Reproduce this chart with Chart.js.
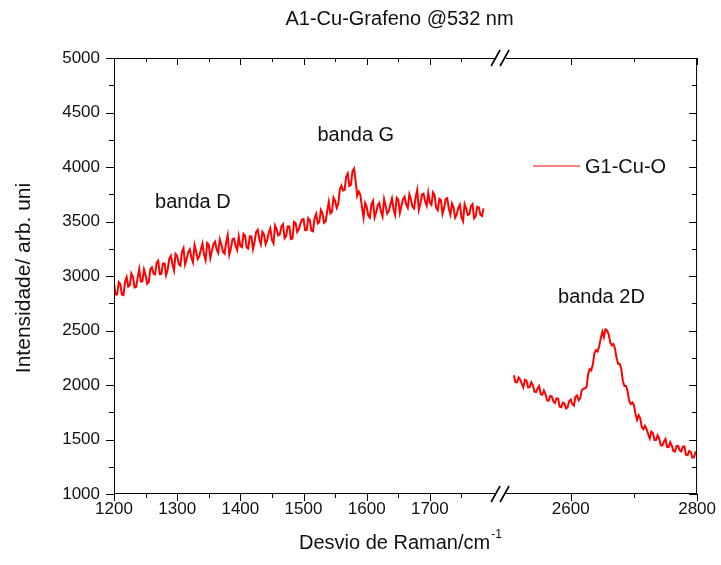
<!DOCTYPE html>
<html>
<head>
<meta charset="utf-8">
<script src="https://cdn.jsdelivr.net/npm/chart.js@4.4.1/dist/chart.umd.min.js"></script>
<style>
  html, body { margin: 0; padding: 0; background: #fff; }
  #wrap { width: 721px; height: 565px; position: relative; }
</style>
</head>
<body>
<div id="wrap"><canvas id="ramanChart"></canvas></div>
<script>
// Espectro Raman A1-Cu-Grafeno
const shiftLeft = [
  1200, 1202.5, 1205, 1207.5, 1210, 1212.5, 1215, 1217.5, 1220, 1222.5, 1225, 1227.5, 1230, 1232.5, 1235, 1237.5, 1240, 1242.5, 1245, 1247.5,
  1250, 1252.5, 1255, 1257.5, 1260, 1262.5, 1265, 1267.5, 1270, 1272.5, 1275, 1277.5, 1280, 1282.5, 1285, 1287.5, 1290, 1292.5, 1295, 1297.5,
  1300, 1302.5, 1305, 1307.5, 1310, 1312.5, 1315, 1317.5, 1320, 1322.5, 1325, 1327.5, 1330, 1332.5, 1335, 1337.5, 1340, 1342.5, 1345, 1347.5,
  1350, 1352.5, 1355, 1357.5, 1360, 1362.5, 1365, 1367.5, 1370, 1372.5, 1375, 1377.5, 1380, 1382.5, 1385, 1387.5, 1390, 1392.5, 1395, 1397.5,
  1400, 1402.5, 1405, 1407.5, 1410, 1412.5, 1415, 1417.5, 1420, 1422.5, 1425, 1427.5, 1430, 1432.5, 1435, 1437.5, 1440, 1442.5, 1445, 1447.5,
  1450, 1452.5, 1455, 1457.5, 1460, 1462.5, 1465, 1467.5, 1470, 1472.5, 1475, 1477.5, 1480, 1482.5, 1485, 1487.5, 1490, 1492.5, 1495, 1497.5,
  1500, 1502.5, 1505, 1507.5, 1510, 1512.5, 1515, 1517.5, 1520, 1522.5, 1525, 1527.5, 1530, 1532.5, 1535, 1537.5, 1540, 1542.5, 1545, 1547.5,
  1550, 1552.5, 1555, 1557.5, 1560, 1562.5, 1565, 1567.5, 1570, 1572.5, 1575, 1577.5, 1580, 1582.5, 1585, 1587.5, 1590, 1592.5, 1595, 1597.5,
  1600, 1602.5, 1605, 1607.5, 1610, 1612.5, 1615, 1617.5, 1620, 1622.5, 1625, 1627.5, 1630, 1632.5, 1635, 1637.5, 1640, 1642.5, 1645, 1647.5,
  1650, 1652.5, 1655, 1657.5, 1660, 1662.5, 1665, 1667.5, 1670, 1672.5, 1675, 1677.5, 1680, 1682.5, 1685, 1687.5, 1690, 1692.5, 1695, 1697.5,
  1700, 1702.5, 1705, 1707.5, 1710, 1712.5, 1715, 1717.5, 1720, 1722.5, 1725, 1727.5, 1730, 1732.5, 1735, 1737.5, 1740, 1742.5, 1745, 1747.5,
  1750, 1752.5, 1755, 1757.5, 1760, 1762.5, 1765, 1767.5, 1770, 1772.5, 1775, 1777.5, 1780, 1782.5, 1785
];
const intensLeft = [
  2930, 2830, 2830, 2943, 2925, 2830, 2825, 2948, 2990, 2903, 2915, 3023, 2990, 2895, 2900, 2988, 3065, 2948, 2950, 3060,
  3010, 2928, 2945, 3063, 3080, 3023, 3015, 3123, 3140, 3018, 3020, 3113, 3115, 3008, 3060, 3158, 3185, 3108, 3050, 3203,
  3185, 3110, 3095, 3220, 3255, 3105, 3155, 3220, 3245, 3170, 3125, 3285, 3225, 3155, 3180, 3244, 3298, 3197, 3145, 3303,
  3285, 3164, 3233, 3292, 3315, 3244, 3212, 3335, 3288, 3222, 3205, 3308, 3375, 3194, 3252, 3335, 3343, 3276, 3238, 3362,
  3275, 3264, 3387, 3370, 3263, 3252, 3365, 3364, 3247, 3311, 3405, 3424, 3337, 3291, 3405, 3379, 3292, 3330, 3398, 3437,
  3330, 3299, 3463, 3428, 3372, 3381, 3455, 3475, 3345, 3365, 3455, 3454, 3338, 3343, 3497, 3486, 3405, 3429, 3478, 3518,
  3522, 3421, 3420, 3530, 3510, 3415, 3410, 3530, 3570, 3483, 3495, 3605, 3575, 3488, 3500, 3595, 3680, 3575, 3590, 3720,
  3690, 3625, 3660, 3795, 3830, 3785, 3790, 3910, 3940, 3825, 3835, 3960, 3985, 3870, 3735, 3775, 3745, 3630, 3535, 3670,
  3635, 3555, 3535, 3658, 3690, 3538, 3585, 3648, 3670, 3593, 3545, 3704, 3643, 3572, 3595, 3659, 3712, 3611, 3560, 3718,
  3700, 3578, 3645, 3704, 3728, 3657, 3625, 3749, 3702, 3636, 3620, 3723, 3790, 3608, 3665, 3748, 3755, 3685, 3645, 3763,
  3670, 3651, 3767, 3741, 3625, 3604, 3708, 3697, 3570, 3623, 3705, 3714, 3618, 3562, 3665, 3630, 3535, 3565, 3625, 3655,
  3540, 3503, 3660, 3620, 3560, 3568, 3640, 3660, 3530, 3548, 3635, 3630, 3560, 3550, 3620
];
const shiftRight = [
  2510, 2512.5, 2515, 2517.5, 2520, 2522.5, 2525, 2527.5, 2530, 2532.5, 2535, 2537.5, 2540, 2542.5, 2545, 2547.5, 2550, 2552.5, 2555, 2557.5,
  2560, 2562.5, 2565, 2567.5, 2570, 2572.5, 2575, 2577.5, 2580, 2582.5, 2585, 2587.5, 2590, 2592.5, 2595, 2597.5, 2600, 2602.5, 2605, 2607.5,
  2610, 2612.5, 2615, 2617.5, 2620, 2622.5, 2625, 2627.5, 2630, 2632.5, 2635, 2637.5, 2640, 2642.5, 2645, 2647.5, 2650, 2652.5, 2655, 2657.5,
  2660, 2662.5, 2665, 2667.5, 2670, 2672.5, 2675, 2677.5, 2680, 2682.5, 2685, 2687.5, 2690, 2692.5, 2695, 2697.5, 2700, 2702.5, 2705, 2707.5,
  2710, 2712.5, 2715, 2717.5, 2720, 2722.5, 2725, 2727.5, 2730, 2732.5, 2735, 2737.5, 2740, 2742.5, 2745, 2747.5, 2750, 2752.5, 2755, 2757.5,
  2760, 2762.5, 2765, 2767.5, 2770, 2772.5, 2775, 2777.5, 2780, 2782.5, 2785, 2787.5, 2790, 2792.5, 2795, 2797.5, 2800
];
const intensRight = [
  2090, 2025, 2025, 2068, 2050, 2013, 1980, 2048, 2040, 1978, 1980, 2025, 2000, 1938, 1935, 1968, 1990, 1915, 1910, 1950,
  1915, 1860, 1855, 1900, 1895, 1850, 1835, 1878, 1875, 1800, 1795, 1838, 1830, 1785, 1795, 1850, 1865, 1825, 1810, 1893,
  1905, 1860, 1880, 1953, 1965, 1970, 1980, 2100, 2145, 2135, 2190, 2290, 2320, 2308, 2355, 2428, 2490, 2440, 2510, 2500,
  2465, 2390, 2365, 2375, 2335, 2250, 2195, 2195, 2150, 2035, 1990, 1990, 1940, 1855, 1825, 1840, 1815, 1735, 1680, 1723,
  1695, 1613, 1595, 1625, 1595, 1550, 1510, 1573, 1560, 1495, 1495, 1538, 1510, 1448, 1445, 1480, 1505, 1433, 1430, 1475,
  1445, 1393, 1390, 1440, 1440, 1400, 1390, 1435, 1435, 1360, 1355, 1395, 1385, 1334, 1337, 1381, 1370
];

const xMajor = [1200, 1300, 1400, 1500, 1600, 1700, 2600, 2800];
const xMinor = [1250, 1350, 1450, 1550, 1650, 1750, 2700];
const yMajor = [1000, 1500, 2000, 2500, 3000, 3500, 4000, 4500, 5000];
const yMinor = [1250, 1750, 2250, 2750, 3250, 3750, 4250, 4750];

// quebra do eixo x: 1808 -> 2485
const BREAK_FROM = 1808;
const BREAK_TO = 2485;
const toAxis = v => v <= BREAK_FROM ? v : v - (BREAK_TO - BREAK_FROM);
const fromAxis = u => u <= BREAK_FROM ? u : u + (BREAK_TO - BREAK_FROM);

const points = shiftLeft.map((s, i) => ({ x: toAxis(s), y: intensLeft[i] }));
points.push({ x: BREAK_FROM, y: null });
shiftRight.forEach((s, i) => points.push({ x: toAxis(s), y: intensRight[i] }));

const FONT = 'Liberation Sans, Arial, sans-serif';

const decorPlugin = {
    id: 'decor',
    afterDraw(chart) {
        const { ctx, chartArea: a, scales } = chart;
        const xs = scales.x, ys = scales.y;
        ctx.save();
        ctx.strokeStyle = '#000';
        ctx.lineWidth = 1;
        ctx.beginPath();
        ctx.moveTo(a.left, a.top + 0.5); ctx.lineTo(a.right, a.top + 0.5);
        ctx.moveTo(a.right - 0.5, a.top); ctx.lineTo(a.right - 0.5, a.bottom);
        ctx.moveTo(a.left, a.bottom - 0.5); ctx.lineTo(a.right, a.bottom - 0.5);
        ctx.moveTo(a.left + 0.5, a.top); ctx.lineTo(a.left + 0.5, a.bottom);
        // ticks x
        const xt = (list, len) => list.forEach(v => {
            const px = Math.round(xs.getPixelForValue(toAxis(v))) + 0.5;
            ctx.moveTo(px, a.bottom); ctx.lineTo(px, a.bottom + len);
            ctx.moveTo(px, a.top); ctx.lineTo(px, a.top + len);
        });
        xt(xMajor, 7); xt(xMinor, 4);
        const yt = (list, len) => list.forEach(v => {
            const py = Math.round(ys.getPixelForValue(v)) + 0.5;
            ctx.moveTo(a.left, py); ctx.lineTo(a.left - len, py);
            ctx.moveTo(a.right, py); ctx.lineTo(a.right - len, py);
        });
        yt(yMajor, 8); yt(yMinor, 5);
        ctx.stroke();

        // marcas de quebra //
        const bx = xs.getPixelForValue(BREAK_FROM) + 3;
        [a.top, a.bottom].forEach(by => {
            ctx.fillStyle = '#fff';
            ctx.fillRect(bx - 5, by - 2, 10, 4);
            ctx.beginPath();
            ctx.lineWidth = 1.6;
            ctx.moveTo(bx - 10, by + 8); ctx.lineTo(bx - 1, by - 8);
            ctx.moveTo(bx - 1, by + 8); ctx.lineTo(bx + 8, by - 8);
            ctx.stroke();
        });

        // textos
        ctx.fillStyle = '#111';
        ctx.textBaseline = 'middle';
        ctx.textAlign = 'center';
        ctx.font = '20px ' + FONT;
        ctx.fillText('A1-Cu-Grafeno @532 nm', (a.left + a.right) / 2 - 6, 19);

        ctx.textAlign = 'left';
        ctx.fillText('banda D', xs.getPixelForValue(1265), ys.getPixelForValue(3670));
        ctx.fillText('banda G', xs.getPixelForValue(1522), ys.getPixelForValue(4290));
        ctx.fillText('banda 2D', xs.getPixelForValue(toAxis(2580)), ys.getPixelForValue(2800));

        // legenda
        ctx.strokeStyle = '#ff0000';
        ctx.lineWidth = 1.2;
        ctx.beginPath();
        ctx.moveTo(533, 166); ctx.lineTo(580, 166);
        ctx.stroke();
        ctx.fillText('G1-Cu-O', 585, 167);

        // titulos dos eixos
        const main = 'Desvio de Raman/cm';
        const w = ctx.measureText(main).width;
        const cx = (a.left + a.right) / 2 - 6;
        ctx.fillText(main, cx - w / 2 - 5, 543);
        ctx.font = '12px ' + FONT;
        ctx.fillText('-1', cx + w / 2 - 4, 535);

        ctx.translate(24, (a.top + a.bottom) / 2 + 2);
        ctx.rotate(-Math.PI / 2);
        ctx.textAlign = 'center';
        ctx.font = '21px ' + FONT;
        ctx.fillText('Intensidade/ arb. uni', 0, 0);
        ctx.restore();
    }
};

new Chart(document.getElementById('ramanChart'), {
    type: 'line',
    data: {
        datasets: [{
            label: 'G1-Cu-O',
            data: points,
            borderColor: '#ff0000',
            borderWidth: 2,
            pointRadius: 0,
            tension: 0,
            spanGaps: false
        }]
    },
    options: {
        responsive: true,
        maintainAspectRatio: false,
        animation: false,
        layout: { padding: { left: 0, top: 58, right: 21, bottom: 0 } },
        plugins: { legend: { display: false }, tooltip: { enabled: false }, title: { display: false } },
        scales: {
            x: {
                type: 'linear',
                min: 1200,
                max: toAxis(2800),
                grid: { display: false, drawTicks: false, tickLength: 0 },
                border: { display: false },
                afterBuildTicks: s => { s.ticks = xMajor.map(v => ({ value: toAxis(v) })); },
                afterFit: s => { s.height = 71; },
                ticks: {
                    padding: 5,
                    color: '#111',
                    font: { family: FONT, size: 17 },
                    callback: v => String(Math.round(fromAxis(v)))
                }
            },
            y: {
                min: 1000,
                max: 5000,
                grid: { display: false, drawTicks: false, tickLength: 0 },
                border: { display: false },
                afterBuildTicks: s => { s.ticks = yMajor.map(v => ({ value: v })); },
                afterFit: s => { s.width = 114; },
                ticks: {
                    padding: 14,
                    color: '#111',
                    font: { family: FONT, size: 17 },
                    callback: v => String(v)
                }
            }
        }
    },
    plugins: [decorPlugin]
});
</script>
</body>
</html>
